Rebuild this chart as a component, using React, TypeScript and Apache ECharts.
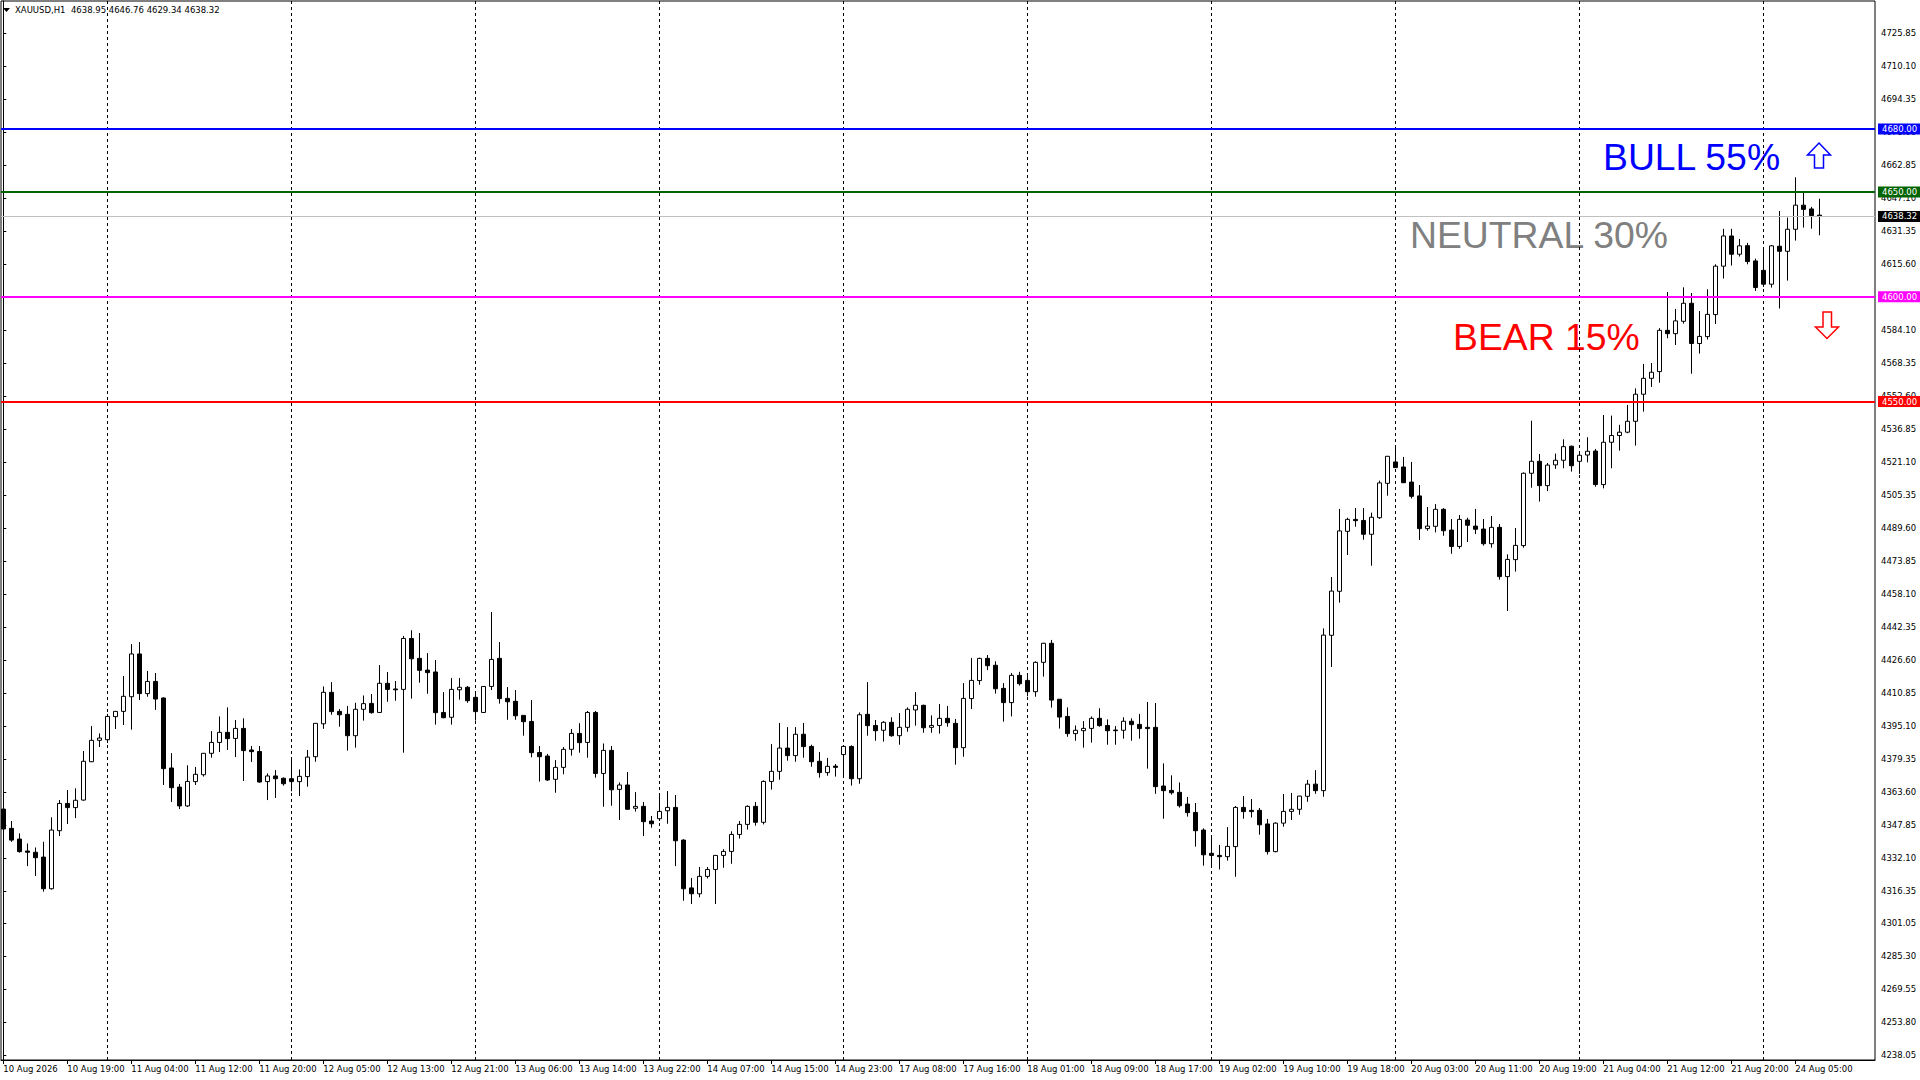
import React, { useEffect, useRef } from 'react';
import * as echarts from 'echarts';

const symbolName = 'XAUUSD,H1';
const dayLabels = ['10 Aug', '11 Aug', '12 Aug', '13 Aug', '14 Aug', '17 Aug', '18 Aug', '19 Aug', '20 Aug', '21 Aug', '24 Aug'];
const firstBarHour = 11;
const firstLabel = '10 Aug 2026';
const labelEvery = 8;
const xMin = -0.2875;
const xMax = 233.9625;

const opens = [
  4355.6, 4346.4, 4341.3, 4335.6, 4335.0, 4332.7, 4317.6, 4345.3, 4358.3, 4356.3,
  4359.9, 4378.2, 4388.4, 4388.7, 4399.7, 4402.2, 4409.2, 4429.6, 4410.7, 4416.5,
  4408.6, 4375.2, 4366.1, 4357.1, 4368.7, 4372.0, 4382.2, 4387.4, 4392.2, 4389.3,
  4394.1, 4383.8, 4383.1, 4368.7, 4371.4, 4370.3, 4370.1, 4368.7, 4371.1, 4380.6,
  4396.3, 4411.3, 4402.2, 4400.8, 4390.6, 4403.2, 4406.0, 4401.7, 4415.6, 4412.9,
  4412.7, 4437.0, 4427.5, 4421.9, 4421.0, 4401.7, 4399.4, 4412.5, 4413.7, 4408.9,
  4401.7, 4414.1, 4427.5, 4408.4, 4407.0, 4400.3, 4397.4, 4382.6, 4380.9, 4369.8,
  4375.5, 4384.1, 4391.7, 4387.4, 4401.7, 4372.6, 4383.6, 4365.0, 4367.1, 4356.0,
  4356.9, 4349.9, 4351.0, 4354.8, 4356.4, 4340.8, 4318.0, 4315.2, 4323.5, 4326.8,
  4333.5, 4335.4, 4343.5, 4348.3, 4356.9, 4349.3, 4368.8, 4373.6, 4384.7, 4381.1,
  4391.3, 4385.5, 4378.4, 4373.0, 4376.1, 4381.6, 4385.5, 4370.1, 4400.8, 4395.5,
  4393.2, 4397.0, 4390.6, 4394.6, 4402.9, 4405.1, 4394.6, 4395.5, 4398.9, 4396.5,
  4384.9, 4408.3, 4416.9, 4427.5, 4424.2, 4413.2, 4406.4, 4419.4, 4417.0, 4411.6,
  4425.6, 4434.7, 4408.0, 4399.8, 4391.6, 4393.0, 4394.1, 4398.9, 4395.5, 4393.3,
  4393.2, 4397.5, 4396.0, 4394.6, 4394.6, 4366.6, 4364.5, 4363.6, 4358.0, 4354.0,
  4345.6, 4334.5, 4333.5, 4332.9, 4337.7, 4356.4, 4355.0, 4355.0, 4348.5, 4335.3,
  4348.9, 4354.5, 4355.5, 4361.7, 4367.5, 4364.4, 4438.5, 4459.5, 4488.1, 4493.8,
  4493.3, 4486.7, 4494.6, 4511.0, 4521.2, 4518.8, 4511.6, 4505.0, 4489.4, 4490.5,
  4498.6, 4488.7, 4480.9, 4493.5, 4490.6, 4489.2, 4482.2, 4490.0, 4466.5, 4474.6,
  4481.3, 4515.8, 4521.5, 4509.9, 4519.8, 4522.0, 4528.7, 4521.5, 4524.5, 4526.4,
  4510.4, 4530.6, 4533.8, 4535.4, 4540.6, 4553.5, 4561.1, 4564.3, 4584.0, 4582.4,
  4588.3, 4596.9, 4577.7, 4581.0, 4591.5, 4614.6, 4629.0, 4620.3, 4624.4, 4617.1,
  4612.6, 4606.0, 4624.1, 4621.7, 4632.2, 4643.7, 4641.9, 4638.95,
];

const highs = [
  4356.4, 4349.9, 4344.0, 4339.2, 4337.3, 4340.0, 4351.7, 4359.9, 4364.7, 4365.5,
  4383.3, 4395.2, 4391.7, 4401.0, 4402.4, 4419.1, 4434.3, 4435.3, 4421.5, 4420.5,
  4408.9, 4382.3, 4367.6, 4376.5, 4375.7, 4382.3, 4392.8, 4399.8, 4404.1, 4398.1,
  4398.9, 4385.7, 4385.7, 4372.6, 4374.2, 4370.7, 4379.8, 4374.5, 4383.8, 4396.5,
  4414.1, 4416.2, 4403.3, 4404.8, 4406.3, 4409.8, 4410.5, 4424.3, 4421.0, 4416.7,
  4438.2, 4440.9, 4439.6, 4430.0, 4426.7, 4411.4, 4418.1, 4418.1, 4414.3, 4411.6,
  4414.3, 4449.6, 4435.3, 4413.8, 4412.4, 4400.4, 4407.6, 4385.7, 4381.9, 4379.0,
  4385.2, 4393.8, 4396.6, 4402.4, 4402.4, 4386.9, 4385.7, 4368.3, 4373.3, 4363.7,
  4359.0, 4352.3, 4362.8, 4364.2, 4362.3, 4341.2, 4322.7, 4328.0, 4328.0, 4333.5,
  4336.5, 4345.0, 4349.9, 4357.4, 4359.0, 4369.3, 4386.6, 4396.7, 4394.7, 4394.7,
  4396.7, 4386.3, 4382.8, 4380.0, 4377.1, 4386.0, 4386.0, 4401.7, 4416.2, 4398.1,
  4397.5, 4399.4, 4401.4, 4404.1, 4411.4, 4405.4, 4400.3, 4405.7, 4404.8, 4398.6,
  4415.7, 4427.7, 4427.8, 4429.1, 4426.1, 4415.7, 4420.5, 4421.1, 4420.0, 4426.1,
  4434.9, 4436.3, 4408.0, 4404.1, 4395.5, 4397.6, 4399.8, 4403.7, 4398.4, 4395.2,
  4399.4, 4398.9, 4401.0, 4406.7, 4406.2, 4377.4, 4371.7, 4368.3, 4361.4, 4358.5,
  4346.4, 4343.2, 4338.5, 4347.0, 4357.1, 4361.8, 4360.4, 4356.1, 4350.9, 4349.3,
  4362.8, 4363.3, 4361.9, 4369.5, 4374.2, 4441.8, 4466.3, 4498.8, 4494.6, 4499.2,
  4499.2, 4497.0, 4512.3, 4523.9, 4528.8, 4523.6, 4521.2, 4510.2, 4499.7, 4501.1,
  4499.2, 4494.0, 4495.9, 4494.6, 4498.8, 4494.0, 4495.4, 4491.6, 4477.1, 4489.7,
  4516.2, 4540.9, 4525.0, 4520.7, 4525.2, 4532.0, 4529.0, 4526.4, 4533.0, 4527.4,
  4543.6, 4543.3, 4538.9, 4548.4, 4556.3, 4568.0, 4568.4, 4585.0, 4602.3, 4594.2,
  4604.5, 4601.8, 4593.2, 4603.6, 4615.5, 4632.4, 4632.4, 4627.6, 4625.7, 4618.2,
  4623.3, 4624.7, 4640.9, 4637.8, 4657.0, 4649.5, 4642.9, 4646.76,
];

const lows = [
  4342.9, 4340.0, 4334.8, 4328.4, 4323.7, 4316.2, 4317.2, 4342.7, 4348.5, 4351.3,
  4359.6, 4378.0, 4385.2, 4387.1, 4393.8, 4395.7, 4393.5, 4407.6, 4409.2, 4402.9,
  4367.1, 4359.0, 4355.6, 4356.6, 4367.1, 4371.1, 4380.1, 4382.8, 4383.8, 4380.4,
  4369.0, 4378.1, 4368.2, 4359.9, 4360.9, 4366.8, 4364.1, 4361.8, 4366.3, 4378.2,
  4393.9, 4400.6, 4394.9, 4383.5, 4384.9, 4397.8, 4401.1, 4401.5, 4406.8, 4407.3,
  4382.5, 4408.3, 4415.9, 4410.6, 4395.9, 4398.9, 4395.9, 4407.8, 4406.3, 4397.8,
  4401.5, 4412.4, 4405.9, 4398.2, 4398.2, 4390.6, 4380.3, 4368.7, 4369.0, 4363.4,
  4372.2, 4381.1, 4382.5, 4380.1, 4370.6, 4356.7, 4357.2, 4350.4, 4355.2, 4354.4,
  4342.7, 4346.7, 4349.9, 4348.6, 4328.4, 4311.9, 4310.3, 4313.5, 4322.5, 4310.3,
  4327.6, 4329.5, 4341.5, 4345.8, 4347.7, 4348.3, 4364.9, 4369.6, 4378.7, 4378.2,
  4380.1, 4375.8, 4370.6, 4371.5, 4371.1, 4371.7, 4366.8, 4367.7, 4390.6, 4388.2,
  4387.8, 4390.1, 4386.3, 4392.5, 4395.4, 4392.0, 4392.0, 4391.6, 4394.9, 4376.8,
  4380.6, 4403.3, 4414.9, 4421.9, 4410.7, 4397.3, 4399.8, 4414.5, 4409.4, 4409.2,
  4418.8, 4404.0, 4394.0, 4390.1, 4388.2, 4384.9, 4387.3, 4394.9, 4386.3, 4386.3,
  4389.2, 4388.2, 4389.2, 4374.9, 4362.9, 4351.0, 4362.5, 4356.3, 4352.0, 4337.7,
  4328.6, 4327.8, 4326.8, 4331.0, 4323.3, 4351.0, 4351.6, 4343.4, 4333.9, 4335.0,
  4347.2, 4350.4, 4352.9, 4359.1, 4362.9, 4361.5, 4423.4, 4454.1, 4476.8, 4490.3,
  4484.1, 4471.7, 4494.1, 4505.1, 4518.5, 4511.3, 4503.8, 4484.0, 4488.4, 4487.6,
  4486.0, 4477.4, 4479.8, 4483.0, 4486.8, 4481.3, 4480.3, 4465.0, 4450.1, 4468.9,
  4480.3, 4508.9, 4502.3, 4507.3, 4517.9, 4518.2, 4516.6, 4515.5, 4521.0, 4509.4,
  4508.6, 4518.2, 4526.6, 4534.9, 4529.0, 4545.2, 4557.0, 4559.0, 4580.2, 4577.0,
  4587.2, 4563.3, 4572.9, 4579.6, 4587.0, 4608.7, 4614.9, 4619.2, 4615.5, 4602.8,
  4604.7, 4604.4, 4594.4, 4607.7, 4626.8, 4633.0, 4632.5, 4629.34,
];

const closes = [
  4346.1, 4340.8, 4335.3, 4335.0, 4332.4, 4317.6, 4345.6, 4358.3, 4356.3, 4359.8,
  4378.4, 4388.4, 4389.5, 4399.8, 4402.2, 4409.4, 4429.6, 4410.7, 4416.5, 4408.1,
  4374.9, 4365.8, 4357.1, 4368.8, 4372.2, 4382.2, 4387.4, 4392.2, 4389.2, 4394.1,
  4383.5, 4383.0, 4368.5, 4371.4, 4370.1, 4367.7, 4368.7, 4371.2, 4380.4, 4396.5,
  4411.3, 4402.1, 4400.6, 4390.6, 4403.2, 4405.9, 4401.6, 4415.6, 4412.7, 4412.5,
  4437.0, 4427.3, 4421.8, 4420.7, 4401.6, 4399.2, 4412.7, 4413.7, 4407.3, 4402.1,
  4414.1, 4427.0, 4408.3, 4406.8, 4400.1, 4397.3, 4382.5, 4380.6, 4369.5, 4375.5,
  4384.1, 4391.7, 4387.3, 4401.7, 4372.6, 4383.6, 4364.8, 4367.1, 4355.5, 4356.9,
  4349.6, 4348.6, 4354.5, 4356.4, 4340.5, 4317.6, 4315.2, 4323.5, 4326.8, 4333.5,
  4335.4, 4343.5, 4348.3, 4356.9, 4349.3, 4368.8, 4373.6, 4384.7, 4381.1, 4391.3,
  4385.4, 4378.2, 4373.0, 4376.0, 4375.5, 4385.5, 4370.1, 4400.6, 4395.4, 4393.0,
  4397.0, 4390.6, 4394.6, 4403.2, 4405.1, 4394.4, 4395.5, 4398.9, 4396.8, 4384.9,
  4408.4, 4417.0, 4427.5, 4424.0, 4413.0, 4406.4, 4419.4, 4415.4, 4411.6, 4425.6,
  4434.7, 4407.6, 4399.5, 4391.6, 4393.2, 4394.1, 4398.9, 4395.4, 4393.0, 4393.0,
  4397.5, 4395.9, 4394.0, 4394.0, 4366.3, 4364.4, 4363.4, 4357.2, 4353.9, 4345.3,
  4333.8, 4333.5, 4332.9, 4337.8, 4356.4, 4354.4, 4354.4, 4348.1, 4335.3, 4348.9,
  4354.5, 4355.5, 4361.8, 4367.5, 4364.4, 4438.6, 4459.6, 4488.3, 4493.8, 4493.2,
  4486.7, 4494.8, 4511.2, 4523.9, 4518.5, 4511.3, 4504.8, 4489.4, 4490.6, 4498.6,
  4488.4, 4480.9, 4493.8, 4491.0, 4489.1, 4482.2, 4490.0, 4466.5, 4474.7, 4481.4,
  4515.8, 4521.5, 4509.9, 4519.7, 4522.0, 4528.5, 4519.4, 4524.4, 4526.3, 4510.4,
  4530.6, 4533.8, 4535.4, 4540.6, 4553.5, 4561.1, 4564.0, 4584.0, 4582.4, 4588.5,
  4596.9, 4577.7, 4581.1, 4591.6, 4614.6, 4629.0, 4620.3, 4624.3, 4616.8, 4604.4,
  4606.0, 4624.3, 4621.7, 4632.2, 4643.7, 4641.7, 4638.7, 4638.32,
];

const yTickLabels = [
  4238.05, 4253.8, 4269.55, 4285.3, 4301.05, 4316.35, 4332.1, 4347.85, 4363.6, 4379.35,
  4395.1, 4410.85, 4426.6, 4442.35, 4458.1, 4473.85, 4489.6, 4505.35, 4521.1, 4536.85,
  4552.6, 4568.35, 4584.1, 4615.6, 4631.35, 4647.1, 4662.85, 4678.6, 4694.35, 4710.1, 4725.85,
];
const yMin = 4235.9;
const yMax = 4741.1;

const levelValues = [4680, 4650, 4600, 4550];
const levelColors = ['#0000ff', '#006400', '#ff00ff', '#ff0000'];

const scenarioNames = ['BULL', 'NEUTRAL', 'BEAR'];
const scenarioProbs = [55, 30, 15];
const scenarioColors = ['#0000ff', '#808080', '#ff0000'];
const scenarioPos = [
  [1603, 157],
  [1410, 235],
  [1453, 337],
];

const FONT = 'Tahoma, "DejaVu Sans", sans-serif';
const BIG_FONT = '"Liberation Sans", Arial, sans-serif';

function buildCategories(total: number): { cats: string[]; dayStarts: number[] } {
  const cats: string[] = [];
  const dayStarts: number[] = [];
  for (let d = 0; d < dayLabels.length && cats.length < total; d++) {
    const startH = d === 0 ? firstBarHour : 1;
    for (let h = startH; h <= 23 && cats.length < total; h++) {
      if (h === 1 && d > 0) dayStarts.push(cats.length);
      const hh = h < 10 ? '0' + h : String(h);
      cats.push(cats.length === 0 ? firstLabel : `${dayLabels[d]} ${hh}:00`);
    }
  }
  return { cats, dayStarts };
}

export default function App() {
  const ref = useRef<HTMLDivElement>(null);

  useEffect(() => {
    if (!ref.current) return;
    const chart = echarts.init(ref.current, null, { renderer: 'svg' });
    const n = opens.length;
    const { cats, dayStarts } = buildCategories(n);
    const candles = opens.map((o, i) => [i, o, closes[i], lows[i], highs[i]]);
    const labelIdx: number[] = [];
    for (let i = 0; i < n; i += labelEvery) labelIdx.push(i);
    const last = n - 1;
    const bid = closes[last];
    const header = `${symbolName}  ${opens[last].toFixed(2)} ${highs[last].toFixed(2)} ${lows[last].toFixed(2)} ${closes[last].toFixed(2)}`;

    const boxLabel = (bg: string) => ({
      show: true,
      position: 'end',
      distance: 3,
      formatter: (p: any) => Number(p.value).toFixed(2),
      color: '#ffffff',
      backgroundColor: bg,
      padding: [1, 4, 1, 4],
      fontSize: 8.5,
      fontFamily: FONT,
    });

    const hLines: any[] = levelValues.map((v, i) => ({
      yAxis: v,
      lineStyle: { color: levelColors[i], width: 2, type: 'solid' },
      label: boxLabel(levelColors[i]),
    }));
    hLines.push({
      yAxis: bid,
      lineStyle: { color: '#c0c0c0', width: 1, type: 'solid' },
      label: boxLabel('#000000'),
    });

    const graphics: any[] = [
      { type: 'polygon', shape: { points: [[3, 8], [10, 8], [6.5, 12]] }, style: { fill: '#000' } },
      {
        type: 'text',
        x: 15,
        y: 10,
        style: { text: header, fontSize: 8.5, fontFamily: FONT, fill: '#000', verticalAlign: 'middle', align: 'left' },
      },
    ];
    scenarioNames.forEach((name, i) => {
      graphics.push({
        type: 'text',
        x: scenarioPos[i][0],
        y: scenarioPos[i][1],
        style: {
          text: `${name} ${scenarioProbs[i]}%`,
          fontSize: 37.33,
          fontFamily: BIG_FONT,
          fill: scenarioColors[i],
          align: 'left',
          verticalAlign: 'middle',
        },
      });
    });
    graphics.push({
      type: 'polygon',
      shape: {
        points: [[1819, 143], [1830.5, 155], [1823.5, 155], [1823.5, 168], [1814.5, 168], [1814.5, 155], [1807.5, 155]],
      },
      style: { fill: '#ffffff', stroke: '#0000ff', lineWidth: 1.5 },
    });
    graphics.push({
      type: 'polygon',
      shape: {
        points: [[1823, 312], [1831.5, 312], [1831.5, 327], [1838.5, 327], [1827, 338.5], [1815.5, 327], [1823, 327]],
      },
      style: { fill: '#ffffff', stroke: '#ff0000', lineWidth: 1.5 },
    });

    chart.setOption({
      animation: false,
      backgroundColor: '#ffffff',
      grid: {
        left: 1,
        top: 1,
        width: 1874,
        height: 1059,
        show: true,
        borderColor: '#000',
        borderWidth: 1,
        backgroundColor: '#ffffff',
      },
      xAxis: {
        type: 'value',
        min: xMin,
        max: xMax,
        axisLine: { show: true, lineStyle: { color: '#000', width: 1 } },
        axisTick: { show: true, length: 4, customValues: labelIdx, lineStyle: { color: '#000' } },
        axisLabel: {
          customValues: labelIdx,
          align: 'left',
          margin: 4,
          fontSize: 8.5,
          fontFamily: FONT,
          color: '#000',
          formatter: (v: number) => cats[Math.round(v)] || '',
        },
        splitLine: { show: false },
      },
      yAxis: {
        type: 'value',
        position: 'right',
        min: yMin,
        max: yMax,
        axisLine: { show: true, lineStyle: { color: '#000', width: 1 } },
        axisTick: { show: true, length: 3, customValues: yTickLabels, lineStyle: { color: '#000' } },
        axisLabel: {
          customValues: yTickLabels,
          formatter: (v: number) => Number(v).toFixed(2),
          fontSize: 8.5,
          fontFamily: FONT,
          color: '#000',
          margin: 6,
        },
        splitLine: { show: false },
      },
      series: [
        {
          type: 'line',
          data: [],
          z: 1,
          silent: true,
          markLine: {
            z: 1,
            silent: true,
            animation: false,
            symbol: ['none', 'none'],
            label: { show: false },
            lineStyle: { color: '#000', width: 1, type: [3, 3] },
            data: dayStarts.map((i) => ({ xAxis: i })),
          },
        },
        {
          type: 'candlestick',
          z: 3,
          data: candles,
          encode: { x: 0, y: [1, 2, 3, 4] },
          barWidth: 4,
          itemStyle: {
            color: '#ffffff',
            color0: '#000000',
            borderColor: '#000000',
            borderColor0: '#000000',
            borderColorDoji: '#000000',
            borderWidth: 1,
          },
          markLine: {
            z: 5,
            silent: true,
            animation: false,
            symbol: ['none', 'none'],
            data: hLines,
          },
        },
      ],
      graphic: graphics,
    });

    return () => chart.dispose();
  }, []);

  return (
    <div
      ref={ref}
      style={{ position: 'fixed', left: 0, top: 0, width: 1920, height: 1080, background: '#ffffff' }}
    />
  );
}
